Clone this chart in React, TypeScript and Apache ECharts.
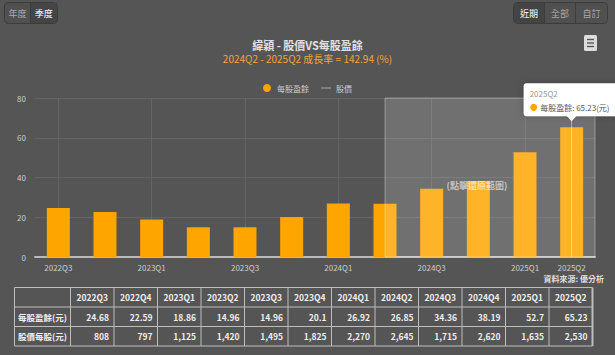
import React, { useEffect, useRef } from 'react';
import * as echarts from 'echarts';

const categories = ['2022Q3', '2022Q4', '2023Q1', '2023Q2', '2023Q3', '2023Q4', '2024Q1', '2024Q2', '2024Q3', '2024Q4', '2025Q1', '2025Q2'];
const eps = [24.68, 22.59, 18.86, 14.96, 14.96, 20.1, 26.92, 26.85, 34.36, 38.19, 52.7, 65.23];
const price = [808, 797, 1125, 1420, 1495, 1825, 2270, 2645, 1715, 2620, 1635, 2530];
const rowLabels = ['每股盈餘(元)', '股價每股(元)'];
const titleText = '緯穎 - 股價VS每股盈餘';
const subText = '2024Q2 - 2025Q2 成長率 = 142.94 (%)';
const areaStart = '2024Q2';
const areaLabel = '(點擊還原範圍)';
const sourceText = '資料來源: 優分析';

const FONT = '"Noto Sans CJK TC", "Noto Sans", sans-serif';

function fmt(n: number) {
  return n.toLocaleString('en-US');
}

export default function App() {
  const ref = useRef<HTMLDivElement>(null);
  useEffect(() => {
    if (!ref.current) return;
    const chart = echarts.init(ref.current, null, { renderer: 'svg' });
    chart.setOption({
      animation: false,
      backgroundColor: '#555555',
      textStyle: { fontFamily: FONT },
      title: {
        text: titleText,
        subtext: subText,
        left: 'center',
        top: 34,
        itemGap: 4,
        textStyle: { color: '#e0e0e0', fontSize: 11, fontWeight: 'bold', fontFamily: FONT },
        subtextStyle: { color: '#f0a33a', fontSize: 10, fontFamily: FONT },
      },
      legend: {
        top: 79,
        left: 'center',
        itemWidth: 10,
        itemHeight: 8,
        itemGap: 12,
        textStyle: { color: '#cccccc', fontSize: 8, fontFamily: FONT },
        inactiveColor: '#cccccc',
        data: [
          { name: '每股盈餘', icon: 'circle' },
          { name: '股價', icon: 'path://M0,0 M0,8 M0,3.3 L20,3.3 L20,4.7 L0,4.7 Z', itemStyle: { color: '#cccccc' } },
        ],
        selected: { '股價': false },
      },
      grid: { left: 35, right: 20, top: 98, bottom: 98 },
      xAxis: {
        type: 'category',
        data: categories,
        axisLine: { lineStyle: { color: '#b8b8b8', width: 2 } },
        axisTick: { show: false, alignWithLabel: true },
        axisLabel: {
          color: '#cccccc',
          fontSize: 8,
          margin: 6,
          interval: (i: number) => i % 2 === 0 || i === categories.length - 1,
        },
        splitLine: {
          show: true,
          alignWithLabel: true,
          interval: (i: number) => i % 2 === 0,
          lineStyle: { color: '#656565', width: 1 },
        },
      },
      yAxis: [
        {
          type: 'value',
          min: 0,
          max: 80,
          interval: 20,
          axisLine: { show: false },
          axisTick: { show: false },
          axisLabel: { color: '#cccccc', fontSize: 8, margin: 9 },
          splitLine: { lineStyle: { color: '#636363', width: 1 } },
        },
        { type: 'value', show: false, min: 0, max: 3000 },
      ],
      series: [
        {
          name: '每股盈餘',
          type: 'bar',
          data: eps,
          barWidth: 23,
          itemStyle: { color: '#FFA500' },
          markArea: {
            z: 3,
            silent: true,
            itemStyle: { color: 'rgba(255,255,255,0.16)', borderColor: 'rgba(255,255,255,0.35)', borderWidth: 1 },
            label: {
              show: true,
              position: 'inside',
              offset: [-13, 8],
              color: 'rgba(255,255,255,0.6)',
              fontSize: 9,
              fontWeight: 'bold',
              fontFamily: FONT,
            },
            data: [[{ xAxis: areaStart, name: areaLabel }, {}]],
          },
          markLine: {
            silent: true,
            symbol: 'none',
            label: { show: false },
            lineStyle: { color: 'rgba(255,255,255,0.45)', width: 1, type: 'solid' },
            data: [{ xAxis: categories[categories.length - 1] }],
          },
        },
        {
          name: '股價',
          type: 'line',
          yAxisIndex: 1,
          data: price,
          symbol: 'none',
          lineStyle: { color: '#dddddd', width: 2 },
          itemStyle: { color: '#dddddd' },
        },
      ],
    });

    const li = categories.length - 1;
    const pt = chart.convertToPixel({ seriesIndex: 0 }, [li, eps[li]]) as number[];
    const px = pt[0];
    const py = pt[1];

    const g: any[] = [];
    // Top-left toggle buttons
    g.push({ type: 'rect', shape: { x: 4.5, y: 2.5, width: 53, height: 21, r: 4 }, style: { fill: '#505050', stroke: '#3c3c3c', lineWidth: 1 } });
    g.push({ type: 'rect', shape: { x: 30.5, y: 3, width: 26.5, height: 20, r: [0, 4, 4, 0] }, style: { fill: '#454545' } });
    g.push({ type: 'line', shape: { x1: 30.5, y1: 3, x2: 30.5, y2: 23 }, style: { stroke: '#3c3c3c', lineWidth: 1 } });
    g.push({ type: 'text', x: 17.5, y: 13, style: { text: '年度', fill: '#a8a8a8', fontSize: 9, fontFamily: FONT, align: 'center', verticalAlign: 'middle' } });
    g.push({ type: 'text', x: 43.7, y: 13, style: { text: '季度', fill: '#ffffff', fontSize: 9, fontFamily: FONT, align: 'center', verticalAlign: 'middle' } });
    // Top-right buttons
    const rb = [
      { t: '近期', x: 514, w: 30, on: true },
      { t: '全部', x: 545, w: 30, on: false },
      { t: '自訂', x: 576, w: 31, on: false },
    ];
    g.push({ type: 'rect', shape: { x: 513.5, y: 2.5, width: 94, height: 21, r: 4 }, style: { fill: '#505050', stroke: '#3c3c3c', lineWidth: 1 } });
    rb.forEach((b, i) => {
      g.push({ type: 'rect', shape: { x: b.x, y: 3, width: b.w, height: 20, r: i === 0 ? [4, 0, 0, 4] : i === 2 ? [0, 4, 4, 0] : 0 }, style: { fill: b.on ? '#444444' : '#505050' } });
      if (i > 0) g.push({ type: 'line', shape: { x1: b.x - 0.5, y1: 3, x2: b.x - 0.5, y2: 23 }, style: { stroke: '#3c3c3c', lineWidth: 1 } });
      g.push({ type: 'text', x: b.x + b.w / 2, y: 13, style: { text: b.t, fill: b.on ? '#ffffff' : '#a8a8a8', fontSize: 9, fontFamily: FONT, align: 'center', verticalAlign: 'middle' } });
    });
    // Menu icon
    g.push({ type: 'rect', shape: { x: 584, y: 35, width: 13, height: 16, r: 1.5 }, style: { fill: '#dcdcdc' } });
    [39.5, 43, 46.5].forEach((y) => {
      g.push({ type: 'line', shape: { x1: 587, y1: y, x2: 594, y2: y }, style: { stroke: '#555555', lineWidth: 1.4 } });
    });
    // Source text
    g.push({ type: 'text', x: 604, y: 278, style: { text: sourceText, fill: '#dddddd', fontSize: 8, fontWeight: 'bold', fontFamily: FONT, align: 'right', verticalAlign: 'middle' } });

    // Tooltip
    const tw = 96, th = 33;
    const tx = px - tw / 2;
    const ty = py - 44;
    g.push({
      type: 'group',
      z: 100,
      children: [
        { type: 'rect', shape: { x: tx, y: ty, width: tw, height: th, r: 3 }, style: { fill: '#ffffff', shadowBlur: 6, shadowColor: 'rgba(0,0,0,0.25)' }, z: 100 },
        { type: 'polygon', shape: { points: [[px - 5, ty + th - 0.5], [px + 5, ty + th - 0.5], [px, ty + th + 5]] }, style: { fill: '#ffffff' }, z: 101 },
        { type: 'text', x: tx + 6, y: ty + 10, style: { text: categories[li], fill: '#999999', fontSize: 8, fontFamily: FONT, verticalAlign: 'middle' }, z: 102 },
        { type: 'circle', shape: { cx: tx + 10, cy: ty + 24, r: 3.5 }, style: { fill: '#FFA500' }, z: 102 },
        { type: 'text', x: tx + 16.5, y: ty + 24, style: { text: '每股盈餘: ' + eps[li] + '(元)', fill: '#555555', fontSize: 8, fontFamily: FONT, verticalAlign: 'middle' }, z: 102 },
      ],
    });

    // Table
    const tL = 14.5, c0 = 56, cw = 43.5, tT = 287.5, rh = 19.5;
    const nCols = categories.length;
    const tR = tL + c0 + cw * nCols;
    const tB = tT + rh * 3;
    const stroke = '#bdbdbd';
    for (let r = 0; r <= 3; r++) {
      const y = tT + rh * r;
      g.push({ type: 'line', shape: { x1: tL, y1: y, x2: tR, y2: y }, style: { stroke, lineWidth: 1 } });
    }
    g.push({ type: 'line', shape: { x1: tL, y1: tT, x2: tL, y2: tB }, style: { stroke, lineWidth: 1 } });
    for (let c = 0; c <= nCols; c++) {
      const x = tL + c0 + cw * c;
      g.push({ type: 'line', shape: { x1: x, y1: tT, x2: x, y2: tB }, style: { stroke, lineWidth: c === nCols ? 2 : 1 } });
    }
    const ts = { fill: '#eeeeee', fontSize: 8.5, fontFamily: FONT, fontWeight: 'bold', verticalAlign: 'middle' };
    categories.forEach((cat, c) => {
      const x0 = tL + c0 + cw * c;
      g.push({ type: 'text', x: x0 + cw / 2, y: tT + rh / 2, style: { ...ts, text: cat, align: 'center' } });
      g.push({ type: 'text', x: x0 + cw - 5, y: tT + rh * 1.5, style: { ...ts, text: String(eps[c]), align: 'right' } });
      g.push({ type: 'text', x: x0 + cw - 5, y: tT + rh * 2.5, style: { ...ts, text: fmt(price[c]), align: 'right' } });
    });
    rowLabels.forEach((lab, r) => {
      g.push({ type: 'text', x: tL + c0 / 2, y: tT + rh * (r + 1.5), style: { ...ts, text: lab, align: 'center' } });
    });

    chart.setOption({ graphic: g });

    return () => chart.dispose();
  }, []);
  return <div ref={ref} style={{ position: 'fixed', left: 0, top: 0, width: 615, height: 355 }} />;
}
